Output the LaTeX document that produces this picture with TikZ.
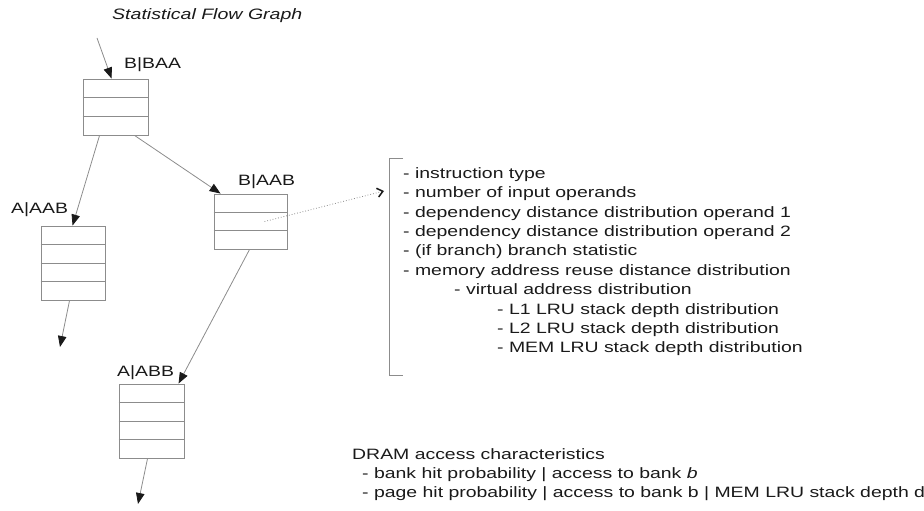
\documentclass[tikz,border=0pt]{standalone}
\usepackage{fontspec}
\setmainfont{Liberation Sans}[FakeStretch=1.295]
\usetikzlibrary{arrows.meta,calc}
\definecolor{ln}{HTML}{8C8C8C}
\definecolor{ink}{HTML}{1A1A1A}
\begin{document}
\begin{tikzpicture}[x=1pt,y=-1pt,
  box/.style={draw=ln, line width=0.9pt, inner sep=0pt, fill=white},
  lbl/.style={anchor=base west, inner sep=0pt, text=ink, font=\fontsize{15}{17}\selectfont},
  conn/.style={draw=ln, line width=0.8pt, -{Triangle[length=11pt,width=8.5pt,color=ink]}},
  dot/.style={draw=ln, line width=0.8pt, dotted, -{Straight Barb[length=5.5pt,width=9pt,color=ink,line width=1.5pt]}}]
\useasboundingbox (0,0) rectangle (924,511);

% title
\node[lbl, font=\fontsize{15.1}{17}\selectfont\itshape] (title) at (112,20) {Statistical Flow Graph};

% boxes
\node[box, minimum width=65pt, minimum height=56pt] (baa) at (115.5,107) {};
\node[box, minimum width=73pt, minimum height=55pt] (aabb) at (250.5,221.5) {};
\node[box, minimum width=64pt, minimum height=74pt] (aaba) at (73,263) {};
\node[box, minimum width=65pt, minimum height=74pt] (abb) at (151.5,421) {};

\foreach \n/\k in {baa/3, aabb/3, aaba/4, abb/4}{
  \pgfmathtruncatemacro{\km}{\k-1}
  \foreach \i in {1,...,\km}{
    \draw[ln, line width=0.9pt] ($(\n.north west)!\i/\k!(\n.south west)$) -- ($(\n.north east)!\i/\k!(\n.south east)$);
  }
}

% labels
\node[lbl] (lbaa) at (124,69) {B|BAA};
\node[lbl] (laabb) at (238,185) {B|AAB};
\node[lbl] (laaba) at (11,213) {A|AAB};
\node[lbl] (labb) at (117,376) {A|ABB};

% connectors
\coordinate (in0) at (97,38);
\coordinate (out1) at (60,347);
\coordinate (out2) at (138,504);
\coordinate (br) at (384,191);
\draw[conn] (in0) -- ([xshift=29pt]baa.north west);
\draw[conn] ([xshift=17pt]baa.south west) -- ([xshift=32pt]aaba.north west);
\draw[conn] ([xshift=52pt]baa.south west) -- ([xshift=7pt]aabb.north west);
\draw[conn] ([xshift=29pt]aaba.south west) -- (out1);
\draw[conn] ([xshift=36pt]aabb.south west) -- ([xshift=60pt]abb.north west);
\draw[conn] ([xshift=29pt]abb.south west) -- (out2);
\draw[dot] ([xshift=14pt]aabb.center) -- (br);

% bracket
\draw[ln, line width=0.9pt] (403,158) -- (389,158) -- (389,375) -- (403,375);

% list
\node[lbl] (l0) at (403,178) {- instruction type};
\node[lbl] (l1) at (403,197.5) {- number of input operands};
\node[lbl] (l2) at (403,217) {- dependency distance distribution operand 1};
\node[lbl] (l3) at (403,236.4) {- dependency distance distribution operand 2};
\node[lbl] (l4) at (403,255.8) {- (if branch) branch statistic};
\node[lbl] (l5) at (403,275.2) {- memory address reuse distance distribution};
\node[lbl] (l6) at (454,294.6) {- virtual address distribution};
\node[lbl] (l7) at (497,314) {- L1 LRU stack depth distribution};
\node[lbl] (l8) at (497,333.4) {- L2 LRU stack depth distribution};
\node[lbl] (l9) at (497,352.8) {- MEM LRU stack depth distribution};

% DRAM
\node[lbl] (d0) at (352,459) {DRAM access characteristics};
\node[lbl] (d1) at (362,478) {- bank hit probability | access to bank \textit{b}};
\node[lbl] (d2) at (362,497) {- page hit probability | access to bank b | MEM LRU stack depth d};
\end{tikzpicture}
\end{document}
